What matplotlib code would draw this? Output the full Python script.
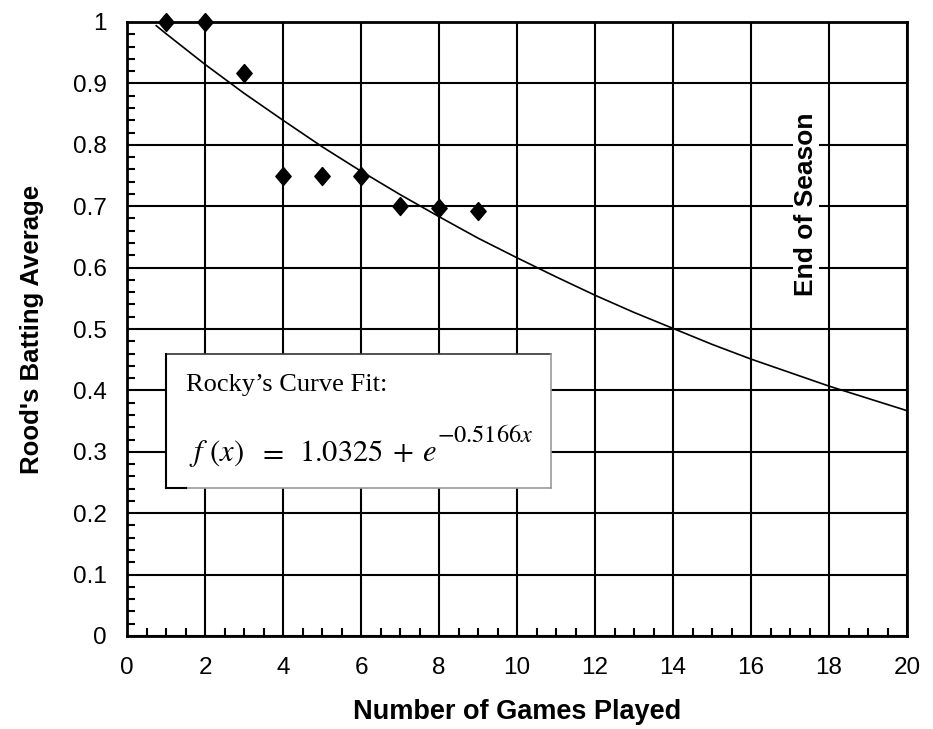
import matplotlib
matplotlib.use("Agg")
import matplotlib.pyplot as plt
from matplotlib.ticker import MultipleLocator
from matplotlib.patches import Rectangle

games = [1, 2, 3, 4, 5, 6, 7, 8, 9]
batting_avg = [1.0, 1.0, 0.917, 0.75, 0.75, 0.75, 0.70, 0.697, 0.692]

fit_x = [0.75, 1, 2, 3, 4, 5, 6, 7, 8, 9, 10, 11, 12, 13, 14, 15, 16, 17, 18, 19, 20]
fit_y = [0.994, 0.981, 0.931, 0.884, 0.840, 0.797, 0.757, 0.719, 0.683, 0.648,
         0.616, 0.585, 0.555, 0.527, 0.501, 0.475, 0.451, 0.429, 0.407, 0.387, 0.367]

xticks = [0, 2, 4, 6, 8, 10, 12, 14, 16, 18, 20]
yticks = [0, 0.1, 0.2, 0.3, 0.4, 0.5, 0.6, 0.7, 0.8, 0.9, 1.0]
yticklabels = ["0", "0.1", "0.2", "0.3", "0.4", "0.5", "0.6", "0.7", "0.8", "0.9", "1"]

plt.rcParams['font.family'] = ['Liberation Sans', 'DejaVu Sans']
plt.rcParams['mathtext.fontset'] = 'stix'

fig = plt.figure(figsize=(9.33, 7.29), dpi=100)
ax = fig.add_axes([127/933, 1 - 636/729, 780/933, 614/729])

ax.set_xlim(0, 20)
ax.set_ylim(0, 1)
ax.set_xticks(xticks)
ax.set_xticklabels([str(t) for t in xticks])
ax.set_yticks(yticks)
ax.set_yticklabels(yticklabels)
ax.xaxis.set_minor_locator(MultipleLocator(0.5))
ax.yaxis.set_minor_locator(MultipleLocator(0.02))
ax.tick_params(which='both', direction='in', width=1.5, labelsize=17.5, colors='black')
ax.tick_params(which='major', length=0)
ax.tick_params(which='minor', length=6)
ax.tick_params(axis='x', which='major', pad=15)
ax.tick_params(axis='y', which='major', pad=14.5)
ax.grid(True, which='major', color='black', linewidth=1.5)
for s in ax.spines.values():
    s.set_linewidth(2)
    s.set_color('black')

ax.plot(fit_x, fit_y, color='black', linewidth=1.2, zorder=3)
diamond = [(0, 1), (0.85, 0), (0, -1), (-0.85, 0), (0, 1)]
ax.plot(games, batting_avg, linestyle='none', marker=diamond, markersize=13,
        color='black', clip_on=False, zorder=4)

# Annotation box
bx0, bx1, by0, by1 = 1.0, 10.87, 0.241, 0.459
ax.add_patch(Rectangle((bx0, by0), bx1 - bx0, by1 - by0, facecolor='white',
                       edgecolor='none', zorder=5))
ax.plot([bx0, bx1], [by1, by1], color='#333333', linewidth=1.2, zorder=6)
ax.plot([bx1, bx1], [by0, by1], color='#999999', linewidth=1.2, zorder=6)
ax.plot([bx0, bx1], [by0, by0], color='#999999', linewidth=1.2, zorder=6)
ax.plot([bx0, bx0], [by0, by1], color='black', linewidth=1.5, zorder=6)
ax.plot([bx0, 1.51], [by0, by0], color='black', linewidth=1.5, zorder=6)

ax.text(1.51, 0.399, "Rocky’s Curve Fit:", family='Liberation Serif', fontsize=19,
        va='baseline', ha='left', zorder=7)
base = 0.285
ax.text(1.60, base, r"$f\,\,(x)$", fontsize=22, va='baseline', ha='left', zorder=7)
ax.text(3.36, base, r"$=$", fontsize=22, va='baseline', ha='left', zorder=7)
ax.text(4.42, base, r"$1.0325$", fontsize=22, va='baseline', ha='left', zorder=7)
ax.text(6.80, base, r"$+$", fontsize=22, va='baseline', ha='left', zorder=7)
ax.text(7.57, base, r"$e$", fontsize=22, va='baseline', ha='left', zorder=7)
ax.text(7.95, 0.316, r"$-0.5166x$", fontsize=17.5, va='baseline', ha='left', zorder=7)

ax.text(17.41, 0.703, "End of Season", rotation=90, fontsize=19, fontweight='bold',
        ha='center', va='center', zorder=7,
        bbox=dict(facecolor='white', edgecolor='none', pad=1))

ax.set_xlabel("Number of Games Played", fontsize=19.5, fontweight='bold')
ax.set_ylabel("Rood's Batting Average", fontsize=18.5, fontweight='bold')
ax.xaxis.set_label_coords(0.5, (636 - 699) / 614)
ax.yaxis.set_label_coords((44 - 127) / 780, 0.5)

fig.savefig("out.png", dpi=100)
